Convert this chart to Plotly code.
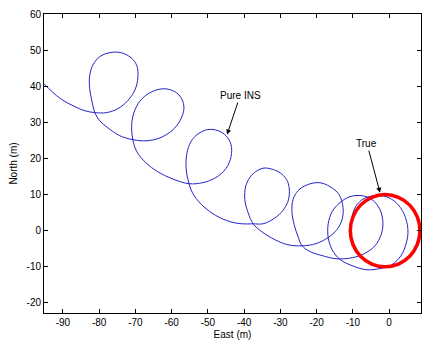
import plotly.graph_objects as go

# Pure INS trajectory (East, North in metres)
ins_east = [-95.2, -93.0, -90.3, -87.2, -83.9, -81.2, -77.9, -74.8, -72.1, -70.1, -69.3, -69.6, -71.2, -74.0,
            -77.0, -79.8, -81.7, -82.6, -82.6, -82.0, -81.2, -79.8, -77.6, -74.3, -70.7, -66.8, -63.2, -59.9,
            -57.7, -56.6, -57.2, -59.1, -62.1, -65.4, -68.2, -70.1, -71.0, -70.7, -69.6, -67.1, -63.8, -59.9,
            -55.2, -51.4, -47.8, -45.0, -43.6, -43.6, -45.0, -47.2, -50.0, -52.7, -54.7, -55.8, -56.0, -55.2,
            -53.8, -51.1, -47.8, -43.9, -40.6, -37.5, -34.8, -32.3, -29.8, -28.0, -27.5, -28.0, -29.6, -31.9, -34.8,
            -37.8, -39.5, -39.8, -38.9, -37.5, -35.1, -31.5, -27.9, -24.0, -20.2, -16.8, -14.4, -13.0, -12.7,
            -13.8, -16.3, -19.3, -22.6, -25.1, -26.5, -26.8, -26.2, -25.1, -24.0, -21.8, -18.5, -14.4, -10.2,
            -6.9, -3.9, -2.2, -1.7, -2.5, -4.7, -7.5, -10.8, -13.5, -15.7, -16.8, -16.8, -15.7, -13.5, -10.2,
            -6.4, -2.5, 0.8, 3.3, 4.7, 5.2, 4.1, 1.9, -0.8, -3.9, -6.9, -9.1, -10.2]
ins_north = [40.7, 38.5, 36.3, 34.6, 33.2, 32.7, 32.7, 33.8, 36.0, 39.0, 42.4, 45.7, 47.9, 49.3,
             49.3, 48.2, 45.9, 42.9, 39.3, 36.0, 32.7, 30.4, 28.5, 26.3, 25.2, 24.9, 25.7, 27.7,
             30.4, 33.8, 36.5, 38.5, 39.3, 38.5, 36.5, 33.5, 29.6, 25.2, 21.9, 18.8, 16.3, 14.4,
             13.0, 13.3, 14.7, 17.2, 20.5, 23.8, 26.3, 27.7, 28.0, 26.8, 24.6, 21.3, 17.4, 13.0,
             9.7, 6.6, 4.2, 2.5, 1.9, 1.9, 1.9, 3.0, 5.0, 7.8, 10.8, 13.6, 15.7, 16.9, 17.3,
             15.5, 12.5, 8.6, 5.0, 1.9, -0.3, -2.5, -3.9, -4.2, -3.6, -1.9, 0.3, 3.0, 6.4,
             10.0, 12.2, 13.3, 12.7, 11.1, 8.6, 5.3, 1.7, -1.7, -4.2, -5.8, -6.9, -7.8, -7.5,
             -6.4, -4.2, -1.1, 2.2, 5.8, 8.6, 9.7, 9.4, 7.8, 5.3, 1.9, -1.9, -5.3, -8.0, -9.7,
             -10.8, -10.5, -9.4, -6.9, -3.6, 0.3, 4.7, 7.8, 9.4, 9.7, 8.9, 6.9, 4.2]

# True trajectory (circle)
true_east = [8.5, 7.77, 5.69, 2.57, -1.1, -4.77, -7.89, -9.97, -10.7, -9.97, -7.89, -4.77, -1.1, 2.57, 5.69, 7.77, 8.5]
true_north = [0.0, 3.83, 7.07, 9.24, 10.0, 9.24, 7.07, 3.83, 0.0, -3.83, -7.07, -9.24, -10.0, -9.24, -7.07, -3.83, 0.0]

x_ticks = [-90, -80, -70, -60, -50, -40, -30, -20, -10, 0]
y_ticks = [-20, -10, 0, 10, 20, 30, 40, 50, 60]

labels = ["Pure INS", "True"]
label_tip_east = [-44.7, -2.5]
label_tip_north = [26.6, 10.5]
label_text_east = [-41.1, -6.1]
label_text_north = [37.4, 24.1]

FONT = "Liberation Sans, Arial, sans-serif"

fig = go.Figure()
fig.add_trace(go.Scatter(x=ins_east, y=ins_north, mode="lines",
                         line=dict(color="#2323c8", width=1, shape="spline", smoothing=1.0),
                         hoverinfo="skip", showlegend=False))
fig.add_trace(go.Scatter(x=true_east, y=true_north, mode="lines",
                         line=dict(color="#ff0000", width=3.5, shape="spline", smoothing=1.3),
                         hoverinfo="skip", showlegend=False))

for t, xt, yt, xa, ya in zip(labels, label_tip_east, label_tip_north, label_text_east, label_text_north):
    fig.add_annotation(x=xt, y=yt, ax=xa, ay=ya, axref="x", ayref="y", xref="x", yref="y",
                       text=t, showarrow=True, arrowhead=2, arrowsize=1, arrowwidth=1,
                       arrowcolor="black", standoff=0, startstandoff=0,
                       font=dict(family=FONT, size=10, color="black"))

axis_common = dict(showline=True, linecolor="black", linewidth=1, mirror="ticks", ticks="inside",
                   ticklen=4, tickcolor="black", showgrid=False, zeroline=False,
                   tickfont=dict(family=FONT, size=10, color="black"),
                   automargin=False)

fig.update_xaxes(range=[-95.2, 8.8], tickvals=x_ticks, ticktext=[str(v) for v in x_ticks],
                 title=dict(text="East (m)", standoff=3, font=dict(family=FONT, size=10, color="black")),
                 **axis_common)
fig.update_yaxes(range=[-22.8, 60], tickvals=y_ticks, ticktext=[str(v) for v in y_ticks],
                 title=dict(text="North (m)", standoff=7, font=dict(family=FONT, size=10, color="black")),
                 **axis_common)

fig.update_layout(width=423, height=341, margin=dict(l=44, r=2, t=14, b=28),
                  paper_bgcolor="white", plot_bgcolor="white")

fig.write_html("out.html", config={"displayModeBar": False})
